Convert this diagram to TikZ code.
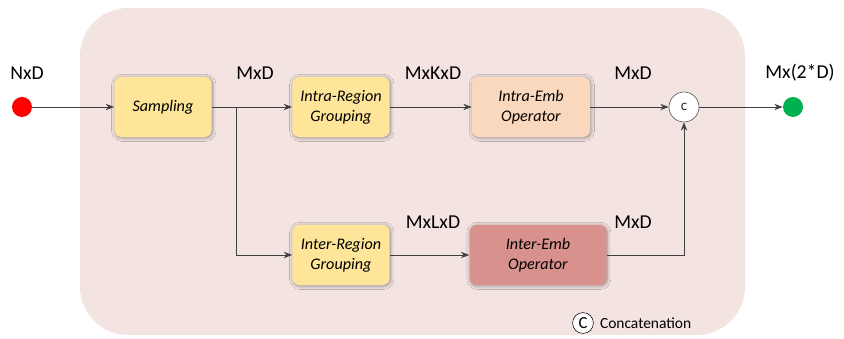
\documentclass[tikz,border=0pt]{standalone}
\usepackage{fontspec}
\setmainfont{Carlito}
\usetikzlibrary{arrows.meta,positioning,shadows.blur}

\definecolor{panel}{RGB}{243,228,226}
\definecolor{yellowbox}{RGB}{254,229,153}
\definecolor{peachbox}{RGB}{250,216,190}
\definecolor{rosebox}{RGB}{216,145,141}
\definecolor{greendot}{RGB}{0,176,80}

\begin{document}
\begin{tikzpicture}[
        x=0.025cm, y=-0.025cm,
        box/.style={
            rectangle,
            rounded corners=5pt,
            align=center,
            minimum width=2.43cm,
            minimum height=1.5cm,
            inner sep=2pt,
            font=\itshape\fontsize{11.5}{14}\selectfont,
            blur shadow={shadow xshift=0.6pt, shadow yshift=-0.6pt,
                shadow blur radius=2.5pt, shadow blur steps=14,
                shadow opacity=40}
        },
        dim/.style={font=\fontsize{14}{16}\selectfont},
        dot/.style={circle, minimum size=0.5cm, inner sep=0pt},
        concat/.style={circle, draw=black!70, fill=white, inner sep=0pt},
        arrow/.style={-{Stealth[length=6pt,width=4.5pt]}, draw=black!75, semithick}
    ]

    \useasboundingbox (0,0) rectangle (844,339);

    % Panel behind the block
    \fill[panel, rounded corners=1.2cm] (80,8) rectangle (745,335);

    % Input and output
    \node[dot, fill=red] (input) at (22,107) {};
    \node[dim] (inlab) at (27,73) {NxD};
    \node[dot, fill=greendot] (output) at (793,107) {};
    \node[dim] (outlab) at (800,73) {Mx(2*D)};

    % Row 1
    \node[box, fill=yellowbox] (sample) at (163,107) {Sampling};
    \node[box, fill=yellowbox] (intraG) at (341,107) {Intra-Region\\Grouping};
    \node[box, fill=peachbox, minimum width=2.95cm] (intraE) at (531,107) {Intra-Emb\\Operator};
    \node[concat, minimum size=0.75cm, font=\fontsize{8}{9}\selectfont] (cat) at (684,107) {C};

    % Row 2
    \node[box, fill=yellowbox] (interG) at (341,255) {Inter-Region\\Grouping};
    \node[box, fill=rosebox, minimum width=3.42cm] (interE) at (538,255) {Inter-Emb\\Operator};

    % Sizes on the edges
    \node[dim] (d1) at (255,73) {MxD};
    \node[dim] (d2) at (433,73) {MxKxD};
    \node[dim] (d3) at (633,73) {MxD};
    \node[dim] (d4) at (433,222) {MxLxD};
    \node[dim] (d5) at (633,222) {MxD};

    % Legend
    \node[concat, draw=black, minimum size=0.52cm, font=\fontsize{12}{14}\selectfont] (legc) at (583,323) {C};
    \node[font=\fontsize{11}{13}\selectfont, right=1pt of legc] (legtext) {Concatenation};

    \coordinate (split) at (236,107);

    % Arrows
    \draw[arrow] (input) -- (sample);
    \draw[arrow] (sample) -- (intraG);
    \draw[arrow] (split) |- (interG);
    \draw[arrow] (intraG) -- (intraE);
    \draw[arrow] (intraE) -- (cat);
    \draw[arrow] (interG) -- (interE);
    \draw[arrow] (interE) -| (cat);
    \draw[arrow] (cat) -- (output);

\end{tikzpicture}
\end{document}
